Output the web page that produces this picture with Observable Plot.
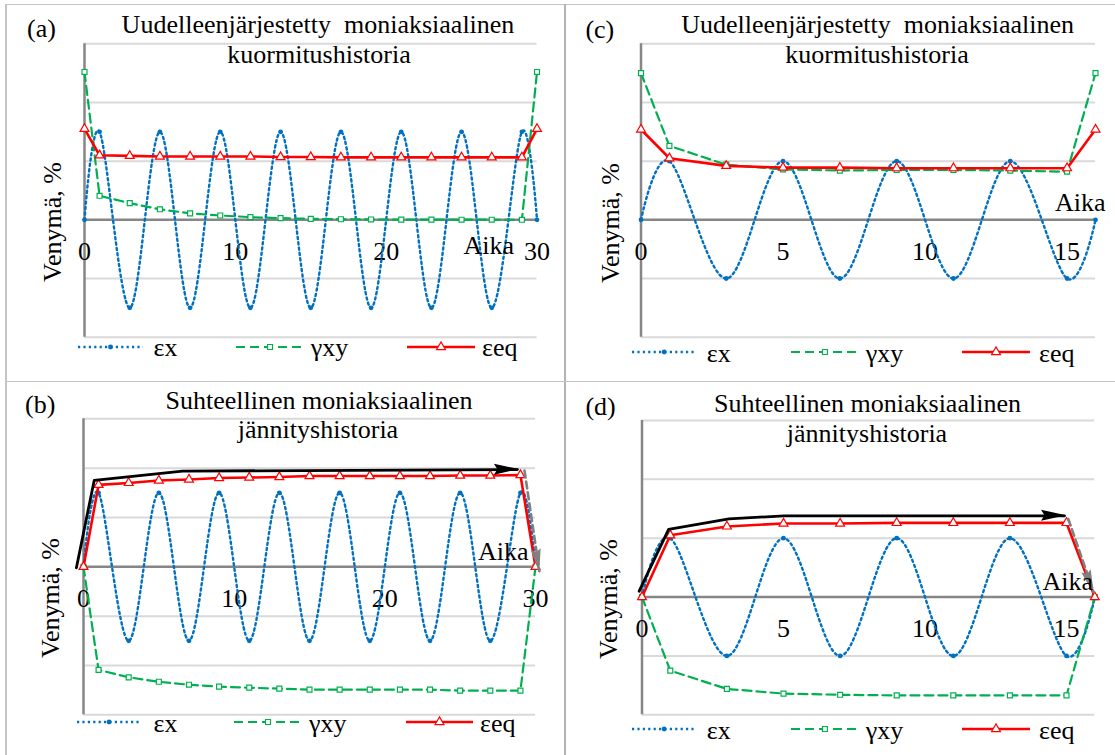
<!DOCTYPE html>
<html><head><meta charset="utf-8">
<script src="https://cdn.jsdelivr.net/npm/d3@7"></script>
<script src="https://cdn.jsdelivr.net/npm/@observablehq/plot@0.6"></script>
<style>
body{margin:0;background:#fff;width:1115px;height:755px;position:relative;overflow:hidden;font-family:"Liberation Serif","Times New Roman",serif;}
.abs{position:absolute;}
.t{position:absolute;font-size:26px;line-height:26px;white-space:pre;color:#000;font-family:"Liberation Serif","Times New Roman",serif;}
.b{position:absolute;background:#c4c4c4;}
</style></head><body>
<script>
// ---------- data ----------
const seriesNames = ["εx", "γxy", "εeq"];
const timeLong = [0, 1, 3, 5, 7, 9, 11, 13, 15, 17, 19, 21, 23, 25, 27, 29, 30];
const timeShort = [0, 1, 3, 5, 7, 9, 11, 13, 15, 16];

// (a) rearranged multiaxial loading history, long
const exA  = [0, 1.5, -1.5, 1.5, -1.5, 1.5, -1.5, 1.5, -1.5, 1.5, -1.5, 1.5, -1.5, 1.5, -1.5, 1.5, 0];
const gxyA = [2.52, 0.41, 0.285, 0.18, 0.11, 0.074, 0.046, 0.028, 0.017, 0.01, 0.006, 0.004, 0.003, 0.002, 0.002, 0.001, 2.52];
const eeqA = [1.55, 1.10, 1.09, 1.08, 1.08, 1.08, 1.08, 1.07, 1.07, 1.065, 1.065, 1.065, 1.065, 1.065, 1.065, 1.065, 1.55];

// (b) proportional multiaxial stress history, long
const exB  = [0, 1.5, -1.5, 1.5, -1.5, 1.5, -1.5, 1.5, -1.5, 1.5, -1.5, 1.5, -1.5, 1.5, -1.5, 1.5, 0];
const gxyB = [0, -2.09, -2.24, -2.33, -2.39, -2.43, -2.45, -2.47, -2.49, -2.49, -2.49, -2.49, -2.49, -2.51, -2.51, -2.51, 0];
const eeqB = [0, 1.66, 1.70, 1.75, 1.77, 1.80, 1.81, 1.82, 1.84, 1.84, 1.84, 1.84, 1.84, 1.85, 1.85, 1.86, 0];
const arrowBx = [-0.47, 0.71, 6.57, 28.8];
const arrowBy = [-0.02, 1.75, 1.94, 1.97];
const dropBx = [29.27, 30.26];
const dropBy = [1.95, -0.09];

// (c) rearranged, short
const exC  = [0, 1, -1, 1, -1, 1, -1, 1, -1, 0];
const gxyC = [2.50, 1.26, 0.94, 0.86, 0.84, 0.85, 0.85, 0.84, 0.82, 2.50];
const eeqC = [1.54, 1.05, 0.92, 0.89, 0.89, 0.88, 0.88, 0.88, 0.88, 1.54];

// (d) proportional, short
const exD  = [0, 1, -1, 1, -1, 1, -1, 1, -1, 0];
const gxyD = [0, -1.25, -1.56, -1.64, -1.66, -1.67, -1.67, -1.67, -1.67, 0];
const eeqD = [0, 1.05, 1.20, 1.25, 1.25, 1.26, 1.26, 1.26, 1.26, 0];
const arrowDx = [-0.1, 0.94, 3.07, 5.02, 14.93];
const arrowDy = [0.1, 1.15, 1.33, 1.38, 1.38];
const dropDx = [15.06, 15.96];
const dropDy = [1.33, 0.085];

const xTicksLong = [0, 10, 20, 30];
const xTicksShort = [0, 5, 10, 15];
const titleRearranged = ["Uudelleenjärjestetty  moniaksiaalinen", "kuormitushistoria"];
const titleProportional = ["Suhteellinen moniaksiaalinen", "jännityshistoria"];
const panelLabels = ["(a)", "(b)", "(c)", "(d)"];
const yLabel = "Venymä, %";
const xLabel = "Aika";

// ---------- styles ----------
const blue = "#0070C0", green = "#00B050", red = "#FF0000";
const FONT = "Liberation Serif";
const DOT = "2.2,3.2";
const DASH = "9,5";

// ---------- borders ----------
function box(l, t, w, h, c) {
  const d = document.createElement("div");
  d.className = "b";
  Object.assign(d.style, {left: l + "px", top: t + "px", width: w + "px", height: h + "px"});
  if (c) d.style.background = c;
  document.body.appendChild(d);
}
box(5, 3.5, 1110, 1.5);
box(5, 3.5, 1.5, 752);
box(563.5, 3.5, 2, 752, "#b3b3b3");
box(5, 380.5, 1110, 1.5);

function addText(txt, x, baseline, anchor) {
  const d = document.createElement("div");
  d.className = "t";
  d.textContent = txt;
  d.style.left = x + "px";
  d.style.top = (baseline - 21.8) + "px";
  if (anchor === "middle") d.style.transform = "translateX(-50%)";
  document.body.appendChild(d);
  return d;
}
function addYLabel(cx, cy) {
  const d = document.createElement("div");
  d.className = "t";
  d.textContent = yLabel;
  d.style.left = cx + "px";
  d.style.top = cy + "px";
  d.style.transform = "translate(-50%,-50%) rotate(-90deg)";
  document.body.appendChild(d);
}

function scaleFn(svg, name) {
  const s = svg.scale(name);
  if (s && typeof s.apply === "function") return v => s.apply(v);
  return d3.scaleLinear(s.domain, s.range);
}

function makePanel(cfg) {
  const rows = cfg.times.map((t, i) => ({t, ex: cfg.ex[i], gxy: cfg.gxy[i], eeq: cfg.eeq[i]}));
  const grid = d3.range(cfg.yDomain[0], cfg.yDomain[1] + 1).filter(v => v !== 0);
  const marks = [
    Plot.ruleY(grid, {stroke: "#d9d9d9", strokeWidth: 2}),
    Plot.ruleY([0], {stroke: "#868686", strokeWidth: 2.5}),
    Plot.ruleX([0], {stroke: "#868686", strokeWidth: 2.5}),
    Plot.text(cfg.xTicks, {x: d => d, y: 0, dy: 32, text: d => String(d), fontSize: 26, fontFamily: FONT, fill: "black"}),
    Plot.line(rows, {x: "t", y: "ex", curve: "cardinal", stroke: blue, strokeWidth: 2.4, strokeDasharray: DOT}),
    Plot.dot(rows, {x: "t", y: "ex", r: 2.4, fill: blue}),
    Plot.line(rows, {x: "t", y: "gxy", stroke: green, strokeWidth: 2.2, strokeDasharray: DASH}),
    Plot.dot(rows, {x: "t", y: "gxy", symbol: "square", r: 2.8, fill: "white", stroke: green, strokeWidth: 1.2}),
    Plot.line(rows, {x: "t", y: "eeq", stroke: red, strokeWidth: 2.6}),
    Plot.dot(rows, {x: "t", y: "eeq", symbol: "triangle", r: 3.3, fill: "white", stroke: red, strokeWidth: 1.2})
  ];
  let arrowSets = [];
  if (cfg.arrow) {
    const a = cfg.arrow[0].map((x, i) => ({ax: x, ay: cfg.arrow[1][i]}));
    const b = cfg.drop[0].map((x, i) => ({ax: x, ay: cfg.drop[1][i]}));
    marks.push(Plot.line(a, {x: "ax", y: "ay", stroke: "black", strokeWidth: 2.8}));
    marks.push(Plot.line(b, {x: "ax", y: "ay", stroke: "#808080", strokeWidth: 2.6, strokeDasharray: "7,4"}));
    arrowSets = [{pts: a, color: "black", len: 23, wid: 11}, {pts: b, color: "#808080", len: 22, wid: 10}];
  }
  const svg = Plot.plot({
    width: cfg.w, height: cfg.h,
    marginLeft: cfg.m[0], marginRight: cfg.m[1], marginTop: cfg.m[2], marginBottom: cfg.m[3],
    x: {domain: cfg.xDomain, axis: null},
    y: {domain: cfg.yDomain, axis: null},
    style: {fontFamily: FONT, fontSize: "26px", background: "transparent", overflow: "visible"},
    marks
  });
  svg.style.position = "absolute";
  svg.style.left = cfg.left + "px";
  svg.style.top = cfg.top + "px";
  svg.style.maxWidth = "none";
  // filled arrowheads at the ends of the annotation paths, placed through the plot's scales
  if (arrowSets.length) {
    const fx = scaleFn(svg, "x"), fy = scaleFn(svg, "y");
    arrowSets.forEach(({pts, color, len, wid}) => {
      const p1 = pts[pts.length - 2], p2 = pts[pts.length - 1];
      const x1 = fx(p1.ax), y1 = fy(p1.ay), x2 = fx(p2.ax), y2 = fy(p2.ay);
      const ang = Math.atan2(y2 - y1, x2 - x1) * 180 / Math.PI;
      d3.select(svg).append("path")
        .attr("d", `M2,0L${-len},${-wid / 2}L${-len * 0.85},0L${-len},${wid / 2}Z`)
        .attr("fill", color)
        .attr("transform", `translate(${x2},${y2}) rotate(${ang})`);
    });
  }
  document.body.appendChild(svg);

  // titles, labels
  addText(cfg.label, cfg.labelPos[0], cfg.labelPos[1]);
  addText(cfg.title[0], cfg.titlePos[0], cfg.titlePos[1], "middle");
  addText(cfg.title[1], cfg.titlePos[2], cfg.titlePos[3], "middle");
  addYLabel(cfg.yLabPos[0], cfg.yLabPos[1]);
  addText(xLabel, cfg.xLabPos[0], cfg.xLabPos[1]);

  // legend
  const lg = cfg.legend;
  const styles = [
    {stroke: blue, width: 2.4, dash: DOT},
    {stroke: green, width: 2.2, dash: DASH},
    {stroke: red, width: 2.6, dash: null}
  ];
  seriesNames.forEach((name, i) => {
    const [x1, x2, lx] = lg.items[i];
    const w = x2 - x1;
    const sv = d3.select(document.body).append("svg").attr("class", "abs")
      .style("left", x1 + "px").style("top", (lg.y - 8) + "px").style("overflow", "visible")
      .attr("width", w).attr("height", 16);
    const st = styles[i];
    const ln = sv.append("line").attr("x1", 0).attr("x2", w).attr("y1", 8).attr("y2", 8)
      .attr("stroke", st.stroke).attr("stroke-width", st.width);
    if (st.dash) ln.attr("stroke-dasharray", st.dash);
    if (i === 0) sv.append("circle").attr("cx", w / 2).attr("cy", 8).attr("r", 2.4).attr("fill", blue);
    if (i === 1) sv.append("path").attr("d", d3.symbol(d3.symbolSquare, Math.PI * 2.8 * 2.8)())
      .attr("transform", `translate(${w / 2},8)`).attr("fill", "white").attr("stroke", green).attr("stroke-width", 1.2);
    if (i === 2) sv.append("path").attr("d", d3.symbol(d3.symbolTriangle, Math.PI * 3.3 * 3.3)())
      .attr("transform", `translate(${w / 2},8)`).attr("fill", "white").attr("stroke", red).attr("stroke-width", 1.2);
    addText(name, lx, lg.base);
  });
}

makePanel({
  id: "a", left: 0, top: 0, w: 563, h: 380, m: [84, 26.5, 43.3, 43.3],
  times: timeLong, ex: exA, gxy: gxyA, eeq: eeqA, xDomain: [0, 30], yDomain: [-2, 3], xTicks: xTicksLong,
  label: panelLabels[0], labelPos: [27, 38], title: titleRearranged, titlePos: [318, 33.5, 319, 63.5],
  yLabPos: [52.5, 221.7], xLabPos: [463.6, 255],
  legend: {y: 346.7, base: 356.7, items: [[78, 143, 153.6], [236, 304, 310.7], [407, 475, 482]]}
});
makePanel({
  id: "b", left: 0, top: 380, w: 563, h: 375, m: [83, 28, 38.3, 40.7],
  times: timeLong, ex: exB, gxy: gxyB, eeq: eeqB, xDomain: [0, 30], yDomain: [-3, 3], xTicks: xTicksLong,
  arrow: [arrowBx, arrowBy], drop: [dropBx, dropBy],
  label: panelLabels[1], labelPos: [25, 414], title: titleProportional, titlePos: [319, 410, 318, 439],
  yLabPos: [50.6, 597.5], xLabPos: [477.9, 560.7],
  legend: {y: 721.7, base: 732.5, items: [[76.8, 141, 153.6], [234, 302, 309], [406, 473, 480]]}
});
makePanel({
  id: "c", left: 565, top: 0, w: 550, h: 380, m: [75.5, 20, 43.3, 43.3],
  times: timeShort, ex: exC, gxy: gxyC, eeq: eeqC, xDomain: [0, 16], yDomain: [-2, 3], xTicks: xTicksShort,
  label: panelLabels[2], labelPos: [585.4, 38.6], title: titleRearranged, titlePos: [877.7, 34, 877, 64],
  yLabPos: [611, 222.5], xLabPos: [1055, 211.7],
  legend: {y: 351.7, base: 363, items: [[631.8, 696, 706.8], [790.7, 858.6, 865.7], [962, 1030, 1039]]}
});
makePanel({
  id: "d", left: 565, top: 380, w: 550, h: 375, m: [76.5, 20.7, 40, 40.7],
  times: timeShort, ex: exD, gxy: gxyD, eeq: eeqD, xDomain: [0, 16], yDomain: [-2, 3], xTicks: xTicksShort,
  arrow: [arrowDx, arrowDy], drop: [dropDx, dropDy],
  label: panelLabels[3], labelPos: [585.4, 416], title: titleProportional, titlePos: [867.5, 412.7, 867, 442.7],
  yLabPos: [609, 599], xLabPos: [1042.5, 591],
  legend: {y: 729, base: 740, items: [[631.8, 696, 706.8], [790.7, 858.6, 865.7], [962, 1030, 1039]]}
});
</script>
</body></html>
